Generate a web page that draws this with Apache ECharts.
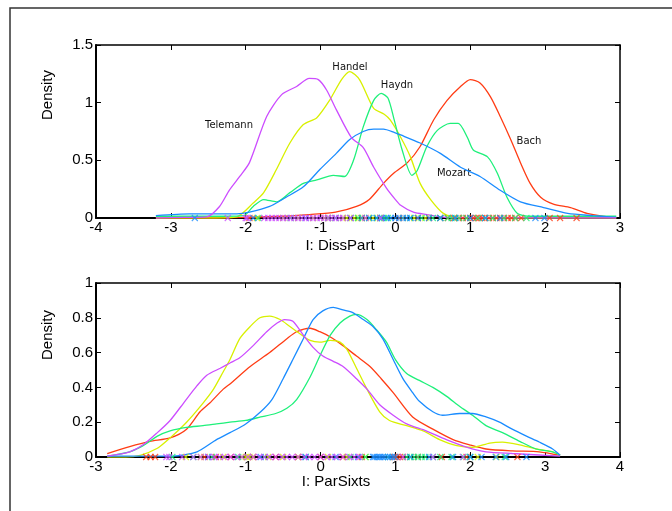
<!DOCTYPE html>
<html><head><meta charset="utf-8">
<script src="https://cdn.jsdelivr.net/npm/echarts@6/dist/echarts.min.js"></script>
<style>html,body{margin:0;padding:0;background:#fff}#c{width:672px;height:511px}</style>
</head><body><div id="c"></div>
<script>
// ---- Data: DissPart (top panel) density curves [x, density] ----
const bachDiss = [[-3.2,0.0],[-2.5,0.0],[-2.0,0.005],[-1.5,0.015],[-1.15,0.03],[-0.8,0.05],[-0.52,0.1],[-0.35,0.16],[-0.16,0.3],[-0.02,0.39],[0.16,0.48],[0.33,0.62],[0.51,0.85],[0.69,1.02],[0.87,1.14],[1.0,1.2],[1.13,1.17],[1.27,1.05],[1.4,0.88],[1.54,0.68],[1.67,0.48],[1.8,0.3],[1.94,0.18],[2.11,0.12],[2.34,0.09],[2.56,0.04],[2.83,0.01],[2.95,0.0]];
const handelDiss = [[-3.2,0.0],[-2.4,0.0],[-2.12,0.01],[-1.9,0.13],[-1.76,0.22],[-1.59,0.42],[-1.41,0.65],[-1.23,0.81],[-1.05,0.87],[-0.88,1.02],[-0.72,1.2],[-0.61,1.27],[-0.48,1.2],[-0.29,0.95],[-0.15,0.9],[-0.07,0.85],[0.07,0.7],[0.2,0.53],[0.33,0.3],[0.47,0.16],[0.64,0.04],[0.8,0.005],[1.5,0.0],[2.95,0.0]];
const haydnDiss = [[-3.2,0.015],[-2.3,0.015],[-2.03,0.02],[-1.9,0.1],[-1.76,0.16],[-1.59,0.14],[-1.41,0.22],[-1.23,0.3],[-1.05,0.33],[-0.83,0.37],[-0.68,0.36],[-0.56,0.5],[-0.43,0.79],[-0.29,1.02],[-0.19,1.08],[-0.1,1.04],[-0.02,0.86],[0.09,0.59],[0.22,0.37],[0.29,0.41],[0.42,0.62],[0.56,0.76],[0.73,0.82],[0.84,0.82],[0.96,0.7],[1.04,0.59],[1.23,0.53],[1.36,0.39],[1.49,0.18],[1.63,0.04],[1.8,0.015],[2.95,0.015]];
const mozartDiss = [[-3.2,0.02],[-2.75,0.035],[-2.12,0.035],[-1.95,0.05],[-1.68,0.1],[-1.46,0.18],[-1.23,0.27],[-1.01,0.42],[-0.79,0.56],[-0.61,0.68],[-0.43,0.75],[-0.29,0.77],[-0.16,0.77],[-0.01,0.74],[0.07,0.72],[0.33,0.65],[0.6,0.56],[0.87,0.44],[1.13,0.36],[1.4,0.24],[1.67,0.14],[1.98,0.09],[2.3,0.04],[2.64,0.02],[2.95,0.005]];
const telemannDiss = [[-3.2,0.0],[-2.8,0.005],[-2.52,0.01],[-2.35,0.1],[-2.22,0.24],[-2.08,0.36],[-1.95,0.48],[-1.72,0.88],[-1.52,1.07],[-1.32,1.14],[-1.15,1.21],[-1.03,1.2],[-0.92,1.11],[-0.79,0.94],[-0.59,0.7],[-0.43,0.61],[-0.29,0.44],[-0.12,0.26],[0.0,0.16],[0.07,0.11],[0.24,0.05],[0.42,0.03],[0.7,0.005],[2.95,0.0]];

// ---- Data: ParSixts (bottom panel) density curves ----
const bachPar = [[-2.85,0.02],[-2.55,0.06],[-2.28,0.09],[-2.01,0.11],[-1.79,0.16],[-1.61,0.26],[-1.48,0.31],[-1.3,0.39],[-1.21,0.42],[-0.94,0.52],[-0.68,0.6],[-0.45,0.68],[-0.32,0.72],[-0.14,0.74],[-0.01,0.72],[0.13,0.69],[0.3,0.64],[0.48,0.58],[0.66,0.52],[0.81,0.45],[0.97,0.37],[1.23,0.23],[1.5,0.16],[1.77,0.1],[1.99,0.07],[2.21,0.046],[2.56,0.035],[2.92,0.03],[3.2,0.01]];
const handelPar = [[-2.85,0.0],[-2.6,0.0],[-2.41,0.01],[-2.18,0.05],[-2.01,0.11],[-1.79,0.2],[-1.57,0.31],[-1.43,0.39],[-1.3,0.49],[-1.21,0.56],[-1.08,0.68],[-0.94,0.75],[-0.81,0.8],[-0.68,0.81],[-0.54,0.79],[-0.41,0.75],[-0.28,0.71],[-0.14,0.67],[-0.01,0.66],[0.13,0.67],[0.26,0.66],[0.35,0.62],[0.48,0.51],[0.62,0.39],[0.79,0.26],[0.92,0.21],[1.15,0.18],[1.37,0.15],[1.59,0.1],[1.82,0.065],[2.03,0.055],[2.26,0.08],[2.43,0.085],[2.66,0.07],[2.88,0.046],[3.1,0.03],[3.2,0.01]];
const haydnPar = [[-2.85,0.005],[-2.55,0.03],[-2.37,0.065],[-2.18,0.12],[-2.01,0.15],[-1.79,0.17],[-1.57,0.18],[-1.39,0.19],[-1.21,0.2],[-1.0,0.21],[-0.8,0.23],[-0.6,0.25],[-0.45,0.28],[-0.32,0.33],[-0.14,0.46],[-0.01,0.58],[0.13,0.7],[0.26,0.77],[0.39,0.81],[0.48,0.82],[0.62,0.79],[0.75,0.73],[0.88,0.66],[1.0,0.56],[1.15,0.48],[1.32,0.44],[1.5,0.4],[1.68,0.35],[1.86,0.29],[2.03,0.24],[2.21,0.18],[2.43,0.14],[2.66,0.09],[2.88,0.046],[3.1,0.03],[3.2,0.01]];
const mozartPar = [[-2.85,0.005],[-1.97,0.005],[-1.65,0.03],[-1.39,0.1],[-1.21,0.14],[-1.0,0.19],[-0.8,0.26],[-0.65,0.33],[-0.5,0.45],[-0.37,0.56],[-0.23,0.68],[-0.1,0.79],[0.03,0.84],[0.17,0.86],[0.3,0.845],[0.43,0.83],[0.57,0.79],[0.7,0.75],[0.83,0.68],[0.97,0.56],[1.1,0.45],[1.23,0.37],[1.32,0.32],[1.5,0.26],[1.63,0.24],[1.86,0.25],[2.03,0.25],[2.21,0.23],[2.39,0.2],[2.56,0.16],[2.75,0.12],[2.92,0.086],[3.1,0.046],[3.2,0.01]];
const telemannPar = [[-2.85,0.005],[-2.55,0.03],[-2.37,0.07],[-2.18,0.14],[-2.01,0.21],[-1.83,0.31],[-1.65,0.41],[-1.52,0.47],[-1.34,0.51],[-1.21,0.54],[-1.08,0.57],[-0.9,0.64],[-0.72,0.72],[-0.58,0.77],[-0.48,0.79],[-0.37,0.78],[-0.23,0.7],[-0.1,0.63],[0.03,0.58],[0.17,0.55],[0.3,0.52],[0.48,0.45],[0.62,0.39],[0.79,0.3],[0.97,0.24],[1.15,0.19],[1.41,0.15],[1.68,0.1],[1.95,0.057],[2.21,0.03],[2.56,0.02],[3.2,0.005]];

// ---- Rug (observations) ----
const bachRug1 = [-1.95,-0.9,-0.45,-0.2,0.05,0.3,0.45,0.6,0.7,0.78,0.85,0.9,0.95,1.0,1.04,1.08,1.12,1.16,1.2,1.25,1.3,1.35,1.4,1.45,1.5,1.55,1.6,1.68,2.06,2.2,2.42];
const handelRug1 = [-1.85,-1.5,-1.3,-1.1,-0.95,-0.8,-0.7,-0.65,-0.6,-0.55,-0.5,-0.45,-0.4,-0.3,-0.2,0.1,0.25,0.4];
const haydnRug1 = [-1.83,-1.4,-0.9,-0.5,-0.35,-0.25,-0.2,-0.15,-0.1,0.2,0.35,0.5,0.6,0.7,0.75,0.8,0.85,0.95,1.1,1.2,1.3,1.45,1.6,1.75];
const mozartRug1 = [-2.68,-1.9,-1.2,-0.8,-0.6,-0.45,-0.35,-0.25,-0.18,-0.12,-0.06,0.0,0.05,0.1,0.15,0.2,0.3,0.45,0.6,0.8,1.0,1.2,1.4,1.87,1.99];
const telemannRug1 = [-2.24,-2.0,-1.98,-1.75,-1.7,-1.65,-1.6,-1.55,-1.5,-1.45,-1.4,-1.35,-1.3,-1.25,-1.2,-1.15,-1.1,-1.05,-1.0,-0.95,-0.9,-0.85,-0.8,-0.75,-0.7,-0.6,-0.4,-0.2];
const bachRug2 = [-2.33,-2.27,-2.21,-1.55,-1.4,-1.2,-0.9,-0.6,-0.3,0.0,0.3,0.55,0.98,1.02,1.06,1.1,1.3,1.62,1.95,2.63];
const handelRug2 = [-1.8,-1.6,-1.3,-1.05,-1.0,-0.98,-0.95,-0.9,-0.7,-0.5,-0.3,0.1,0.35,0.6,1.2,2.1,2.35];
const haydnRug2 = [-1.98,-1.7,-1.45,-1.1,-0.75,-0.2,0.4,0.6,0.9,1.15,1.2,1.25,1.3,1.35,1.4,1.5,1.6,1.75,1.91,2.0,2.46];
const mozartRug2 = [-1.5,-0.8,-0.2,0.2,0.5,0.7,0.72,0.75,0.78,0.8,0.83,0.86,0.9,0.93,0.96,1.0,1.2,1.45,1.77,2.0,2.15,2.34,2.48,2.75];
const telemannRug2 = [-2.06,-2.02,-1.85,-1.7,-1.6,-1.5,-1.42,-1.35,-1.28,-1.2,-1.12,-1.05,-0.97,-0.9,-0.82,-0.75,-0.68,-0.6,-0.52,-0.45,-0.38,-0.3,-0.22,-0.15,-0.08,0.0,0.08,0.15,0.22,0.3,0.38,0.45,0.52,1.1,1.5,1.9];

const composers = ['Bach','Handel','Haydn','Mozart','Telemann'];
const xTicks1 = {min:-4, max:3, interval:1};
const yTicks1 = {min:0, max:1.5, interval:0.5};
const xTicks2 = {min:-3, max:4, interval:1};
const yTicks2 = {min:0, max:1, interval:0.2};
const xName1 = 'I: DissPart', xName2 = 'I: ParSixts', yName = 'Density';

const colors = {Bach:'#ff3c14', Handel:'#d8f000', Haydn:'#1ef07a', Mozart:'#1a8cff', Telemann:'#cc4cff'};
const curves1 = {Bach:bachDiss, Handel:handelDiss, Haydn:haydnDiss, Mozart:mozartDiss, Telemann:telemannDiss};
const curves2 = {Bach:bachPar, Handel:handelPar, Haydn:haydnPar, Mozart:mozartPar, Telemann:telemannPar};
const rugs1 = {Bach:bachRug1, Handel:handelRug1, Haydn:haydnRug1, Mozart:mozartRug1, Telemann:telemannRug1};
const rugs2 = {Bach:bachRug2, Handel:handelRug2, Haydn:haydnRug2, Mozart:mozartRug2, Telemann:telemannRug2};

const FONT = 'Liberation Sans';
function xAx(grid, t, main){
  return {type:'value', gridIndex:grid, min:t.min, max:t.max, interval:t.interval,
    position: main ? 'bottom':'top',
    axisLine:{show:true, onZero:false, lineStyle:{color:'#000', width: main?2:1.5}},
    axisTick:{show:true, inside:true, length:5, lineStyle:{color:'#000', width:1}},
    axisLabel:{show:main, color:'#000', fontSize:15, fontFamily:FONT, margin:2},
    splitLine:{show:false}};
}
function yAx(grid, t, main){
  return {type:'value', gridIndex:grid, min:t.min, max:t.max, interval:t.interval,
    position: main ? 'left':'right',
    axisLine:{show:true, onZero:false, lineStyle:{color:'#000', width: main?2:1.5}},
    axisTick:{show:true, inside:true, length:5, lineStyle:{color:'#000', width:1}},
    axisLabel:{show:main, color:'#000', fontSize:15, fontFamily:FONT, margin:3},
    splitLine:{show:false}};
}
const series = [];
[[curves1, rugs1, 0], [curves2, rugs2, 2]].forEach(([cv, rg, ax]) => {
  composers.forEach(c => {
    series.push({type:'line', name:c, xAxisIndex:ax, yAxisIndex:ax, data:cv[c], showSymbol:false,
      smooth:0.25, lineStyle:{color:colors[c], width:1.3}, silent:true, z:2});
  });
  composers.forEach(c => {
    series.push({type:'scatter', name:c+' obs', xAxisIndex:ax, yAxisIndex:ax,
      data: rg[c].map(v => [v, 0]),
      symbol:'path://M0,0L10,10M10,0L0,10', symbolSize:6,
      itemStyle:{color:'none', borderColor:colors[c], borderWidth:1.1}, silent:true, z:3});
  });
});

const labelStyle = {font:'10px "DejaVu Sans"', fill:'#111', align:'center', verticalAlign:'middle'};
const chart = echarts.init(document.getElementById('c'));
chart.setOption({
  animation:false,
  backgroundColor:'#fff',
  grid:[{left:96, top:45, width:524, height:173}, {left:96, top:283, width:524, height:174}],
  xAxis:[xAx(0,xTicks1,true), xAx(0,xTicks1,false), xAx(1,xTicks2,true), xAx(1,xTicks2,false)],
  yAxis:[yAx(0,yTicks1,true), yAx(0,yTicks1,false), yAx(1,yTicks2,true), yAx(1,yTicks2,false)],
  series: series,
  graphic:[
    {type:'rect', shape:{x:10, y:8, width:700, height:520}, style:{fill:'none', stroke:'#333', lineWidth:1.5}, silent:true},
    {type:'text', x:48, y:95, rotation:Math.PI/2, style:{text:yName, font:'15px "Liberation Sans"', fill:'#000', align:'center', verticalAlign:'middle'}},
    {type:'text', x:48, y:335, rotation:Math.PI/2, style:{text:yName, font:'15px "Liberation Sans"', fill:'#000', align:'center', verticalAlign:'middle'}},
    {type:'text', x:340, y:246, style:{text:xName1, font:'15px "Liberation Sans"', fill:'#000', align:'center', verticalAlign:'middle'}},
    {type:'text', x:336, y:482, style:{text:xName2, font:'15px "Liberation Sans"', fill:'#000', align:'center', verticalAlign:'middle'}},
    {type:'text', x:229, y:125, style:Object.assign({text:'Telemann'}, labelStyle)},
    {type:'text', x:350, y:67, style:Object.assign({text:'Handel'}, labelStyle)},
    {type:'text', x:397, y:85, style:Object.assign({text:'Haydn'}, labelStyle)},
    {type:'text', x:529, y:141, style:Object.assign({text:'Bach'}, labelStyle)},
    {type:'text', x:454, y:173, style:Object.assign({text:'Mozart'}, labelStyle)}
  ]
});
</script></body></html>
